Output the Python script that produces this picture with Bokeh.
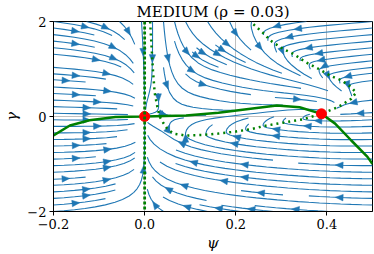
import numpy as np
from bokeh.plotting import figure
from bokeh.embed import file_html
from bokeh.resources import INLINE
from bokeh.models import FixedTicker, Span

# ---------------- data ----------------
TITLE_CAPS = "MEDIUM"
TITLE_REST = "(ρ = 0.03)"
X_LABEL = "ψ"
Y_LABEL = "γ"
X_TICKS = [-0.2, 0.0, 0.2, 0.4]
X_TICK_LABELS = ["−0.2", "0.0", "0.2", "0.4"]
Y_TICKS = [-2, 0, 2]
Y_TICK_LABELS = ["−2", "0", "2"]
PSI_MIN, PSI_MAX = -0.2, 0.5
GAM_MIN, GAM_MAX = -2.0, 2.0

# gamma-nullcline (solid green)
NULL_G_PSI = [-0.200, -0.164, -0.121, -0.064, 0.000, 0.091, 0.162, 0.237,
              0.290, 0.340, 0.388, 0.418, 0.453, 0.489, 0.500]
NULL_G_GAM = [-0.40, -0.19, -0.08, -0.01, 0.00, 0.02, 0.08, 0.17,
              0.23, 0.195, 0.056, -0.15, -0.50, -0.85, -1.00]

# psi-nullcline: psi = 0 (dotted, vertical)
NULL_P0_PSI = 0.0
# psi-nullcline: second branch (dotted green)
NULL_P_PSI = [0.012, 0.015, 0.018, 0.022, 0.028, 0.033, 0.040, 0.049, 0.063,
              0.090, 0.127, 0.162, 0.198, 0.237, 0.262, 0.304, 0.347, 0.388,
              0.425, 0.453, 0.464, 0.453, 0.432, 0.407, 0.382, 0.354, 0.326,
              0.304, 0.276, 0.262, 0.232]
NULL_P_GAM = [2.00, 1.50, 1.00, 0.50, 0.20, 0.00, -0.12, -0.25, -0.36,
              -0.40, -0.39, -0.36, -0.32, -0.26, -0.20, -0.13, -0.06, 0.056,
              0.20, 0.37, 0.50, 0.62, 0.76, 0.86, 1.00, 1.14, 1.32,
              1.42, 1.60, 1.74, 2.00]

# fixed points (red)
FIX_PSI = [0.0, 0.388]
FIX_GAM = [0.0, 0.056]

# ---------------- layout ----------------
W, H = 374, 254
BL, BR, BT, BB = 43, 2, 21, 43
FW, FH = W - BL - BR, H - BT - BB
SX = FW / (PSI_MAX - PSI_MIN)
SY = FH / (GAM_MAX - GAM_MIN)
FONT = "DejaVu Serif"
BLUE = "#1f77b4"
GREEN = "#008000"

# ---------------- direction field built from the nullclines ----------------
NX = NY = 100
xg = np.linspace(PSI_MIN, PSI_MAX, NX)
yg = np.linspace(GAM_MIN, GAM_MAX, NY)
PX, PY = np.meshgrid(xg, yg)

PXU, PYU = 470.0, 47.65   # reference pixels per unit, used as distance metric
cx = (np.array(NULL_P_PSI) - PSI_MIN) * PXU
cy = np.array(NULL_P_GAM) * PYU


def _extend(xa, ya):
    d0 = np.array([xa[0] - xa[1], ya[0] - ya[1]])
    d0 /= np.hypot(*d0)
    d1 = np.array([xa[-1] - xa[-2], ya[-1] - ya[-2]])
    d1 /= np.hypot(*d1)
    L = 300.0
    xs = np.concatenate([[xa[0] + L * d0[0]], xa, [xa[-1] + L * d1[0]]])
    ys = np.concatenate([[ya[0] + L * d0[1]], ya, [ya[-1] + L * d1[1]]])
    return xs, ys


ex, ey = _extend(cx, cy)
gx = (PX - PSI_MIN) * PXU
gy = PY * PYU

dist = np.full(gx.shape, np.inf)
for i in range(len(ex) - 1):
    ax_, ay_, bx_, by_ = ex[i], ey[i], ex[i + 1], ey[i + 1]
    ddx, ddy = bx_ - ax_, by_ - ay_
    t = ((gx - ax_) * ddx + (gy - ay_) * ddy) / (ddx * ddx + ddy * ddy)
    t = np.clip(t, 0, 1)
    dist = np.minimum(dist, np.hypot(gx - ax_ - t * ddx, gy - ay_ - t * ddy))

inside = np.zeros(gx.shape, dtype=bool)
n = len(ex)
j = n - 1
for i in range(n):
    xi_, yi_, xj_, yj_ = ex[i], ey[i], ex[j], ey[j]
    if yj_ != yi_:
        cond = ((yi_ > gy) != (yj_ > gy)) & (gx < (xj_ - xi_) * (gy - yi_) / (yj_ - yi_) + xi_)
        inside ^= cond
    j = i

K_IN, K_OUT = 0.03, 0.39
F = np.where(inside, K_IN * dist, -K_OUT * dist ** 0.7)
U = PX * F
V = np.interp(PX, NULL_G_PSI, NULL_G_GAM) - PY


# ---------------- streamline tracer (matplotlib-style) ----------------
class _Term(Exception):
    pass


class _OOB(Exception):
    pass


class _Inv(Exception):
    pass


def trace_streamlines(xg, yg, U, V, density=1.0, minlength=0.1, maxlength=4.0):
    nx, ny = len(xg), len(yg)
    dxg, dyg = xg[1] - xg[0], yg[1] - yg[0]
    mnx = mny = int(30 * density)
    mask = np.zeros((mny, mnx), dtype=bool)
    gx2m, gy2m = (mnx - 1) / (nx - 1), (mny - 1) / (ny - 1)
    u = U / dxg
    v = V / dyg
    speed = np.sqrt((u / (nx - 1)) ** 2 + (v / (ny - 1)) ** 2)
    st = {"cur": None, "traj": []}
    maxds = min(1.0 / mnx, 1.0 / mny, 0.1)

    def interp(a, xi, yi):
        x = int(xi)
        y = int(yi)
        xn = x if x == nx - 1 else x + 1
        yn = y if y == ny - 1 else y + 1
        xt, yt = xi - x, yi - y
        a0 = a[y, x] * (1 - xt) + a[y, xn] * xt
        a1 = a[yn, x] * (1 - xt) + a[yn, xn] * xt
        return a0 * (1 - yt) + a1 * yt

    def within(xi, yi):
        return 0 <= xi <= nx - 1 and 0 <= yi <= ny - 1

    def g2m(xi, yi):
        return int(round(xi * gx2m)), int(round(yi * gy2m))

    def update(xm, ym):
        if st["cur"] != (xm, ym):
            if not mask[ym, xm]:
                st["traj"].append((ym, xm))
                mask[ym, xm] = True
                st["cur"] = (xm, ym)
            else:
                raise _Inv

    def fwd(xi, yi):
        if not within(xi, yi):
            raise _OOB
        ds_dt = interp(speed, xi, yi)
        if ds_dt == 0:
            raise _Term
        dt_ds = 1.0 / ds_dt
        return interp(u, xi, yi) * dt_ds, interp(v, xi, yi) * dt_ds

    def bwd(xi, yi):
        a, b = fwd(xi, yi)
        return -a, -b

    def euler(traj, f):
        xi, yi = traj[-1]
        cxx, cyy = f(xi, yi)
        if cxx == 0:
            dsx = np.inf
        elif cxx < 0:
            dsx = xi / -cxx
        else:
            dsx = (nx - 1 - xi) / cxx
        if cyy == 0:
            dsy = np.inf
        elif cyy < 0:
            dsy = yi / -cyy
        else:
            dsy = (ny - 1 - yi) / cyy
        ds = min(dsx, dsy)
        traj.append((xi + cxx * ds, yi + cyy * ds))
        return ds, traj

    def rk12(x0, y0, f):
        maxerror = 0.003
        ds = maxds
        stotal = 0.0
        xi, yi = x0, y0
        traj = []
        while True:
            try:
                if within(xi, yi):
                    traj.append((xi, yi))
                else:
                    raise _OOB
                k1x, k1y = f(xi, yi)
                k2x, k2y = f(xi + ds * k1x, yi + ds * k1y)
            except _OOB:
                if traj:
                    try:
                        d, traj = euler(traj, f)
                        stotal += d
                    except _Term:
                        pass
                break
            except _Term:
                break
            dx1, dy1 = ds * k1x, ds * k1y
            dx2, dy2 = ds * 0.5 * (k1x + k2x), ds * 0.5 * (k1y + k2y)
            err = np.hypot((dx2 - dx1) / (nx - 1), (dy2 - dy1) / (ny - 1))
            if err < maxerror:
                xi += dx2
                yi += dy2
                try:
                    if not within(xi, yi):
                        raise _Inv
                    update(*g2m(xi, yi))
                except _Inv:
                    break
                if stotal + ds > maxlength:
                    break
                stotal += ds
            if err == 0:
                ds = maxds
            else:
                ds = min(maxds, 0.85 * ds * (maxerror / err) ** 0.5)
        return stotal, traj

    def integrate(x0, y0):
        st["traj"] = []
        try:
            update(*g2m(x0, y0))
        except _Inv:
            return None
        stotal = 0.0
        xy = []
        s, t = rk12(x0, y0, bwd)
        stotal += s
        xy += t[::-1]
        st["cur"] = g2m(x0, y0)
        s, t = rk12(x0, y0, fwd)
        stotal += s
        xy += t[1:]
        if stotal > minlength:
            return xy
        for (ym, xm) in st["traj"]:
            mask[ym, xm] = False
        return None

    def starts(shape):
        nyy, nxx = shape
        xfirst, yfirst, xlast, ylast = 0, 1, nxx - 1, nyy - 1
        x, y = 0, 0
        direction = "right"
        for _ in range(nxx * nyy):
            yield x, y
            if direction == "right":
                x += 1
                if x >= xlast:
                    xlast -= 1
                    direction = "up"
            elif direction == "up":
                y += 1
                if y >= ylast:
                    ylast -= 1
                    direction = "left"
            elif direction == "left":
                x -= 1
                if x <= xfirst:
                    xfirst += 1
                    direction = "down"
            elif direction == "down":
                y -= 1
                if y <= yfirst:
                    yfirst += 1
                    direction = "right"

    trajs = []
    for xm, ym in starts(mask.shape):
        if not mask[ym, xm]:
            t = integrate(xm / gx2m, ym / gy2m)
            if t is not None:
                arr = np.array(t)
                trajs.append((xg[0] + arr[:, 0] * dxg, yg[0] + arr[:, 1] * dyg))
    return trajs


trajs = trace_streamlines(xg, yg, U, V, density=1.0)

line_xs, line_ys, arr_xs, arr_ys = [], [], [], []
AL, AW = 8.0, 6.5
for tx, ty in trajs:
    line_xs.append(list(tx))
    line_ys.append(list(ty))
    s = np.cumsum(np.hypot(np.diff(tx), np.diff(ty)))
    k = int(np.searchsorted(s, s[-1] / 2.0))
    tailx, taily = tx[k], ty[k]
    headx, heady = np.mean(tx[k:k + 2]), np.mean(ty[k:k + 2])
    ux, uy = (headx - tailx) * SX, (heady - taily) * SY
    nrm = np.hypot(ux, uy)
    if nrm == 0:
        continue
    ux, uy = ux / nrm, uy / nrm
    bx, by = -AL * ux, -AL * uy
    nx_, ny_ = -uy * AW / 2, ux * AW / 2
    arr_xs.append([headx, headx + (bx + nx_) / SX, headx + (bx - nx_) / SX])
    arr_ys.append([heady, heady + (by + ny_) / SY, heady + (by - ny_) / SY])

# ---------------- figure ----------------
p = figure(width=W, height=H, x_range=(PSI_MIN, PSI_MAX), y_range=(GAM_MIN, GAM_MAX),
           output_backend="svg", toolbar_location=None,
           title=f"{TITLE_CAPS} {TITLE_REST}",
           min_border_left=BL, min_border_right=BR, min_border_top=BT, min_border_bottom=BB)
p.background_fill_color = "white"
p.border_fill_color = "white"
p.outline_line_color = "black"
p.outline_line_width = 1
p.title.align = "center"
p.title.text_font = FONT
p.title.text_font_style = "normal"
p.title.text_font_size = "15px"
p.title.text_color = "black"
p.title.standoff = 1
p.title.offset = 0

for ax, ticks, labels in ((p.xaxis, X_TICKS, X_TICK_LABELS), (p.yaxis, Y_TICKS, Y_TICK_LABELS)):
    ax.ticker = FixedTicker(ticks=ticks)
    ax.major_label_overrides = {t: l for t, l in zip(ticks, labels)}
    ax.major_label_text_font = FONT
    ax.major_label_text_font_size = "13px"
    ax.major_label_text_color = "black"
    ax.major_tick_in = 0
    ax.major_tick_out = 4
    ax.minor_tick_line_color = None
    ax.axis_line_color = "black"
    ax.major_tick_line_color = "black"
    ax.major_label_standoff = 3
    ax.axis_label_text_font = FONT
    ax.axis_label_text_font_style = "italic"
    ax.axis_label_text_font_size = "15px"
    ax.axis_label_text_color = "black"
p.xaxis.axis_label = X_LABEL
p.yaxis.axis_label = Y_LABEL
p.xaxis.axis_label_standoff = 2
p.yaxis.axis_label_standoff = 3

p.xgrid.ticker = FixedTicker(ticks=X_TICKS)
p.ygrid.ticker = FixedTicker(ticks=Y_TICKS)
p.grid.grid_line_color = "#b0b0b0"
p.grid.grid_line_width = 0.8

p.multi_line(line_xs, line_ys, line_color=BLUE, line_width=1.1)
p.patches(arr_xs, arr_ys, fill_color=BLUE, line_color=BLUE, line_width=0.5)

p.add_layout(Span(location=NULL_P0_PSI, dimension="height", line_color=GREEN,
                  line_width=2.8, line_dash="3 2"))
p.line(NULL_P_PSI, NULL_P_GAM, line_color=GREEN, line_width=2.5, line_dash="2 4")
p.line(NULL_G_PSI, NULL_G_GAM, line_color=GREEN, line_width=2.5)
p.scatter(FIX_PSI, FIX_GAM, size=10, color="red", line_color="red")

open("out.html", "w").write(file_html(p, INLINE))
